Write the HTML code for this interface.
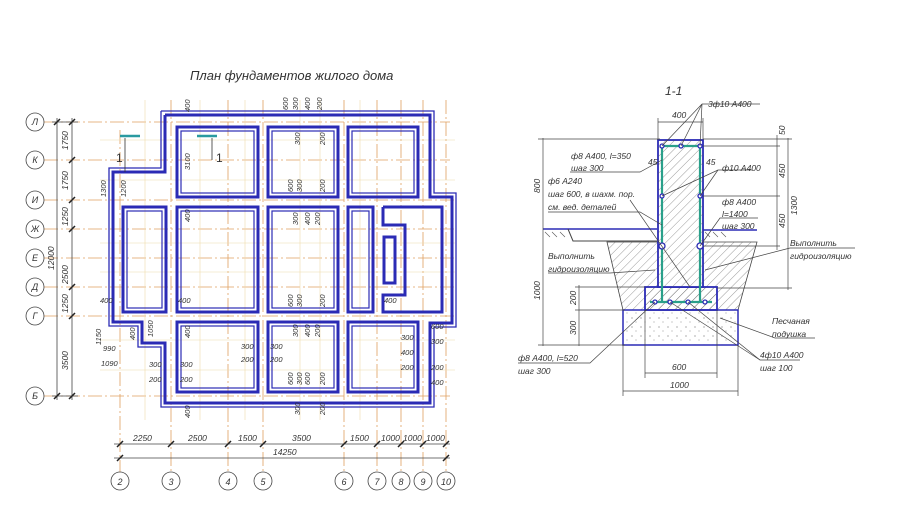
<!DOCTYPE html>
<html><head><meta charset="utf-8"><style>
html,body{margin:0;padding:0;background:#fff;}
svg{display:block;}
text{font-family:"Liberation Sans",sans-serif;font-style:italic;fill:#333;}
</style></head><body>
<svg width="900" height="521" viewBox="0 0 900 521" xmlns="http://www.w3.org/2000/svg">
<rect width="900" height="521" fill="#fff"/>
<text x="190" y="80" font-size="13" fill="#444">План фундаментов жилого дома</text>

<!-- axes horizontal -->
<g stroke="#e0a060" stroke-width="0.8" stroke-dasharray="14,3,2,3">
<line x1="44" y1="122" x2="450" y2="122"/><line x1="44" y1="160" x2="450" y2="160"/>
<line x1="44" y1="200" x2="455" y2="200"/><line x1="44" y1="229" x2="455" y2="229"/>
<line x1="44" y1="258" x2="455" y2="258"/><line x1="44" y1="287" x2="455" y2="287"/>
<line x1="44" y1="316" x2="455" y2="316"/><line x1="44" y1="396" x2="450" y2="396"/>
<line x1="120" y1="130" x2="120" y2="472"/><line x1="171" y1="100" x2="171" y2="472"/>
<line x1="228" y1="100" x2="228" y2="472"/><line x1="263" y1="100" x2="263" y2="472"/>
<line x1="344" y1="100" x2="344" y2="472"/><line x1="377" y1="100" x2="377" y2="472"/>
<line x1="401" y1="100" x2="401" y2="472"/><line x1="423" y1="100" x2="423" y2="472"/>
<line x1="446" y1="100" x2="446" y2="472"/>
</g>
<g stroke="#eedcaa" stroke-width="0.6">
<line x1="100" y1="140" x2="455" y2="140"/><line x1="100" y1="180" x2="455" y2="180"/>
<line x1="100" y1="243" x2="455" y2="243"/><line x1="100" y1="272" x2="455" y2="272"/>
<line x1="100" y1="340" x2="455" y2="340"/><line x1="100" y1="370" x2="455" y2="370"/>
<line x1="145" y1="100" x2="145" y2="420"/><line x1="200" y1="100" x2="200" y2="420"/>
<line x1="245" y1="100" x2="245" y2="420"/><line x1="300" y1="100" x2="300" y2="420"/>
<line x1="320" y1="100" x2="320" y2="420"/><line x1="360" y1="100" x2="360" y2="420"/>
</g>

<!-- axis circles -->
<g fill="#fff" stroke="#444" stroke-width="0.8">
<circle cx="35" cy="122" r="9"/><circle cx="35" cy="160" r="9"/><circle cx="35" cy="200" r="9"/>
<circle cx="35" cy="229" r="9"/><circle cx="35" cy="258" r="9"/><circle cx="35" cy="287" r="9"/>
<circle cx="35" cy="316" r="9"/><circle cx="35" cy="396" r="9"/>
<circle cx="120" cy="481" r="9"/><circle cx="171" cy="481" r="9"/><circle cx="228" cy="481" r="9"/>
<circle cx="263" cy="481" r="9"/><circle cx="344" cy="481" r="9"/><circle cx="377" cy="481" r="9"/>
<circle cx="401" cy="481" r="9"/><circle cx="423" cy="481" r="9"/><circle cx="446" cy="481" r="9"/>
</g>
<g font-size="9" text-anchor="middle">
<text x="35" y="125">Л</text><text x="35" y="163">К</text><text x="35" y="203">И</text>
<text x="35" y="232">Ж</text><text x="35" y="261">Е</text><text x="35" y="290">Д</text>
<text x="35" y="319">Г</text><text x="35" y="399">Б</text>
<text x="120" y="485">2</text><text x="171" y="485">3</text><text x="228" y="485">4</text>
<text x="263" y="485">5</text><text x="344" y="485">6</text><text x="377" y="485">7</text>
<text x="401" y="485">8</text><text x="423" y="485">9</text><text x="446" y="485">10</text>
</g>

<!-- left dimension lines -->
<g stroke="#444" stroke-width="0.8">
<line x1="57" y1="118" x2="57" y2="400"/><line x1="72" y1="118" x2="72" y2="400"/>
<line x1="52" y1="122" x2="78" y2="122"/><line x1="52" y1="396" x2="78" y2="396"/>
<line x1="114" y1="444" x2="450" y2="444"/><line x1="114" y1="458" x2="450" y2="458"/>
</g>
<g stroke="#222" stroke-width="1.5">
<path d="M54 125l6-6M69 125l6-6M69 163l6-6M69 203l6-6M69 232l6-6M69 290l6-6M69 319l6-6M54 399l6-6M69 399l6-6"/>
<path d="M117 447l6-6M168 447l6-6M225 447l6-6M260 447l6-6M341 447l6-6M374 447l6-6M398 447l6-6M420 447l6-6M443 447l6-6M117 461l6-6M443 461l6-6"/>
</g>
<g font-size="8.5">
<text transform="translate(68,150) rotate(-90)">1750</text>
<text transform="translate(68,190) rotate(-90)">1750</text>
<text transform="translate(68,226) rotate(-90)">1250</text>
<text transform="translate(68,284) rotate(-90)">2500</text>
<text transform="translate(68,313) rotate(-90)">1250</text>
<text transform="translate(68,370) rotate(-90)">3500</text>
<text transform="translate(54,270) rotate(-90)">12000</text>
<text x="133" y="441">2250</text><text x="188" y="441">2500</text><text x="238" y="441">1500</text>
<text x="292" y="441">3500</text><text x="350" y="441">1500</text><text x="381" y="441">1000</text>
<text x="403" y="441">1000</text><text x="426" y="441">1000</text><text x="273" y="455">14250</text>
</g>

<!-- plan walls -->
<g fill="none" stroke="#2b2bb5">
<polyline stroke-width="3" points="165,115 430,115 430,197 452,197 452,323 430,323 430,403 165,403 165,343 142,343 142,322 113,322 113,172 165,172 165,115"/>
<polyline stroke-width="1.3" points="161,111 434,111 434,193 456,193 456,327 434,327 434,407 161,407 161,347 138,347 138,326 109,326 109,168 161,168 161,111"/>
<g stroke-width="3">
<rect x="177" y="127" width="81" height="70"/><rect x="268" y="127" width="70" height="70"/><rect x="348" y="127" width="70" height="70"/>
<rect x="123" y="207" width="43" height="105"/><rect x="177" y="207" width="81" height="105"/><rect x="268" y="207" width="70" height="105"/>
<rect x="348" y="207" width="25" height="105"/>
<polyline points="383,207 442,207 442,312 383,312 383,295 405,295 405,225 383,225 383,207"/>
<rect x="384" y="237" width="11" height="46"/>
<rect x="177" y="322" width="81" height="70"/><rect x="268" y="322" width="70" height="70"/><rect x="348" y="322" width="70" height="70"/>
</g>
<g stroke-width="1.2">
<rect x="181" y="131" width="73" height="62"/><rect x="272" y="131" width="62" height="62"/><rect x="352" y="131" width="62" height="62"/>
<rect x="127" y="211" width="35" height="97"/><rect x="181" y="211" width="73" height="97"/><rect x="272" y="211" width="62" height="97"/>
<rect x="352" y="211" width="17" height="97"/>
<rect x="181" y="326" width="73" height="62"/><rect x="272" y="326" width="62" height="62"/><rect x="352" y="326" width="62" height="62"/>
</g>
</g>
<!-- section marks -->
<g stroke="#2a9aa0" stroke-width="2.5"><line x1="120" y1="136" x2="140" y2="136"/><line x1="197" y1="136" x2="217" y2="136"/></g>
<g stroke="#333" stroke-width="0.8"><line x1="125" y1="138" x2="125" y2="172"/><line x1="212" y1="138" x2="212" y2="160"/></g>
<text x="116" y="162" font-size="12" style="font-style:normal">1</text>
<text x="216" y="162" font-size="12" style="font-style:normal">1</text>

<!-- small plan dim labels -->
<g font-size="7.5">
<text transform="translate(190,112) rotate(-90)">400</text>
<text transform="translate(288,110) rotate(-90)">600</text><text transform="translate(298,110) rotate(-90)">300</text>
<text transform="translate(310,110) rotate(-90)">400</text><text transform="translate(322,110) rotate(-90)">200</text>
<text transform="translate(300,145) rotate(-90)">300</text><text transform="translate(325,145) rotate(-90)">200</text>
<text transform="translate(190,170) rotate(-90)">3100</text>
<text transform="translate(106,197) rotate(-90)">1300</text><text transform="translate(126,197) rotate(-90)">1200</text>
<text transform="translate(190,222) rotate(-90)">400</text>
<text transform="translate(293,192) rotate(-90)">600</text><text transform="translate(302,192) rotate(-90)">300</text>
<text transform="translate(325,192) rotate(-90)">200</text>
<text transform="translate(298,225) rotate(-90)">300</text><text transform="translate(310,225) rotate(-90)">400</text><text transform="translate(320,225) rotate(-90)">200</text>
<text x="100" y="303">400</text><text x="178" y="303">400</text><text x="384" y="303">400</text>
<text transform="translate(293,307) rotate(-90)">600</text><text transform="translate(302,307) rotate(-90)">300</text><text transform="translate(325,307) rotate(-90)">200</text>
<text transform="translate(298,337) rotate(-90)">300</text><text transform="translate(310,337) rotate(-90)">400</text><text transform="translate(320,337) rotate(-90)">200</text>
<text transform="translate(101,345) rotate(-90)">1150</text><text transform="translate(135,340) rotate(-90)">400</text>
<text transform="translate(153,337) rotate(-90)">1050</text><text transform="translate(190,338) rotate(-90)">400</text>
<text x="103" y="351">990</text><text x="101" y="366">1090</text>
<text x="149" y="367">300</text><text x="149" y="382">200</text><text x="180" y="367">300</text><text x="180" y="382">200</text>
<text x="241" y="349">300</text><text x="241" y="362">200</text><text x="270" y="349">300</text><text x="270" y="362">200</text>
<text x="401" y="340">300</text><text x="401" y="355">400</text><text x="401" y="370">200</text>
<text x="431" y="329">600</text><text x="431" y="344">300</text><text x="431" y="370">200</text><text x="431" y="385">400</text>
<text transform="translate(293,385) rotate(-90)">600</text><text transform="translate(302,385) rotate(-90)">300</text>
<text transform="translate(310,385) rotate(-90)">600</text><text transform="translate(325,385) rotate(-90)">200</text>
<text transform="translate(190,418) rotate(-90)">400</text>
<text transform="translate(300,415) rotate(-90)">300</text><text transform="translate(325,415) rotate(-90)">200</text>
</g>

<!-- ===== Section 1-1 ===== -->
<text x="665" y="95" font-size="12">1-1</text>
<defs>
<pattern id="h" width="6" height="6" patternUnits="userSpaceOnUse" patternTransform="rotate(45)">
<line x1="0" y1="0" x2="0" y2="6" stroke="#555" stroke-width="0.6"/></pattern>
<pattern id="d" width="9" height="9" patternUnits="userSpaceOnUse">
<circle cx="2" cy="3" r="0.6" fill="#777"/><circle cx="6" cy="7" r="0.5" fill="#777"/></pattern>
</defs>
<!-- backfill -->
<polygon points="607,242 757,242 738,310 623,310" fill="url(#h)" stroke="#444" stroke-width="0.8"/>
<polygon points="623,310 738,310 738,345 623,345" fill="url(#d)" stroke="#2b2bb5" stroke-width="1.5"/>
<rect x="645" y="287" width="72" height="23" fill="url(#h)" stroke="#2b2bb5" stroke-width="1.8"/>
<rect x="658" y="140" width="45" height="147" fill="#fff" stroke="#2b2bb5" stroke-width="1.8"/>
<rect x="658" y="140" width="45" height="147" fill="url(#h)"/>
<!-- slab -->
<polyline points="543,229 657,229" stroke="#2b2bb5" stroke-width="1.5" fill="none"/>
<polyline points="568,229 573,241 657,241" stroke="#444" stroke-width="1" fill="none"/>
<line x1="703" y1="230" x2="757" y2="230" stroke="#2b2bb5" stroke-width="1.5"/>
<path d="M545 232l5 5M552 232l5 5M560 232l5 5M705 232l5 5M713 232l5 5M721 232l5 5" stroke="#555" stroke-width="0.6"/>
<!-- rebar -->
<g stroke="#2aa08a" stroke-width="2.2" fill="none">
<polyline points="662,302 662,146 700,146 700,302"/>
<line x1="650" y1="302" x2="712" y2="302"/>
</g>
<g fill="#fff" stroke="#2b2bb5" stroke-width="1.3">
<circle cx="662" cy="146" r="2"/><circle cx="681" cy="146" r="2"/><circle cx="700" cy="146" r="2"/>
<circle cx="662" cy="196" r="2"/><circle cx="700" cy="196" r="2"/>
<circle cx="662" cy="246" r="3"/><circle cx="700" cy="246" r="3"/>
<circle cx="655" cy="302" r="2"/><circle cx="670" cy="302" r="2"/><circle cx="688" cy="302" r="2"/><circle cx="705" cy="302" r="2"/>
</g>
<!-- section dims -->
<g stroke="#444" stroke-width="0.7" fill="none">
<line x1="543" y1="138" x2="543" y2="346"/><line x1="538" y1="139" x2="660" y2="139"/>
<line x1="538" y1="345" x2="625" y2="345"/>
<line x1="579" y1="285" x2="579" y2="346"/><line x1="575" y1="287" x2="645" y2="287"/><line x1="575" y1="310" x2="625" y2="310"/>
<line x1="777" y1="135" x2="777" y2="250"/><line x1="788" y1="138" x2="788" y2="290"/>
<line x1="703" y1="139" x2="792" y2="139"/><line x1="703" y1="146" x2="780" y2="146"/>
<line x1="703" y1="196" x2="780" y2="196"/><line x1="703" y1="246" x2="780" y2="246"/>
<line x1="717" y1="288" x2="792" y2="288"/>
<line x1="658" y1="122" x2="703" y2="122"/><line x1="658" y1="118" x2="658" y2="140"/><line x1="703" y1="118" x2="703" y2="140"/>
<line x1="645" y1="373" x2="717" y2="373"/><line x1="623" y1="391" x2="738" y2="391"/>
<line x1="645" y1="310" x2="645" y2="378"/><line x1="717" y1="310" x2="717" y2="378"/>
<line x1="623" y1="345" x2="623" y2="396"/><line x1="738" y1="345" x2="738" y2="396"/>
<!-- leaders -->
<polyline points="702,104 760,104"/><line x1="702" y1="104" x2="662" y2="146"/><line x1="702" y1="104" x2="681" y2="146"/><line x1="702" y1="104" x2="700" y2="146"/>
<polyline points="570,172 640,172 662,160"/>
<polyline points="752,170 718,170 662,196"/><line x1="718" y1="170" x2="700" y2="196"/>
<polyline points="548,212 640,212 662,225"/><line x1="630" y1="200" x2="690" y2="287"/>
<polyline points="758,218 720,218 700,246"/>
<polyline points="855,248 790,248 705,270"/>
<polyline points="548,273 610,273 655,270"/>
<polyline points="815,338 775,338 720,318"/>
<polyline points="518,363 590,363 655,302"/>
<polyline points="800,360 760,360 688,302"/><line x1="760" y1="360" x2="670" y2="302"/>
</g>
<g font-size="8.5">
<text x="672" y="118">400</text><text x="708" y="107">3ф10 А400</text>
<text x="571" y="159">ф8 А400, l=350</text><text x="571" y="171">шаг 300</text>
<text x="648" y="165">45</text><text x="706" y="165">45</text>
<text x="722" y="171">ф10 А400</text>
<text x="548" y="184">ф6 А240</text><text x="548" y="197">шаг 600, в шахм. пор.</text><text x="548" y="210">см. вед. деталей</text>
<text x="722" y="205">ф8 А400</text><text x="722" y="217">l=1400</text><text x="722" y="229">шаг 300</text>
<text x="790" y="246">Выполнить</text><text x="790" y="259">гидроизоляцию</text>
<text x="548" y="259">Выполнить</text><text x="548" y="272">гидроизоляцию</text>
<text x="772" y="324">Песчаная</text><text x="772" y="337">подушка</text>
<text x="518" y="361">ф8 А400, l=520</text><text x="518" y="374">шаг 300</text>
<text x="760" y="358">4ф10 А400</text><text x="760" y="371">шаг 100</text>
<text x="672" y="370">600</text><text x="670" y="388">1000</text>
<text transform="translate(540,193) rotate(-90)">800</text>
<text transform="translate(540,300) rotate(-90)">1000</text>
<text transform="translate(576,305) rotate(-90)">200</text>
<text transform="translate(576,335) rotate(-90)">300</text>
<text transform="translate(785,135) rotate(-90)">50</text>
<text transform="translate(785,178) rotate(-90)">450</text>
<text transform="translate(785,228) rotate(-90)">450</text>
<text transform="translate(797,215) rotate(-90)">1300</text>
</g>
</svg>
</body></html>
